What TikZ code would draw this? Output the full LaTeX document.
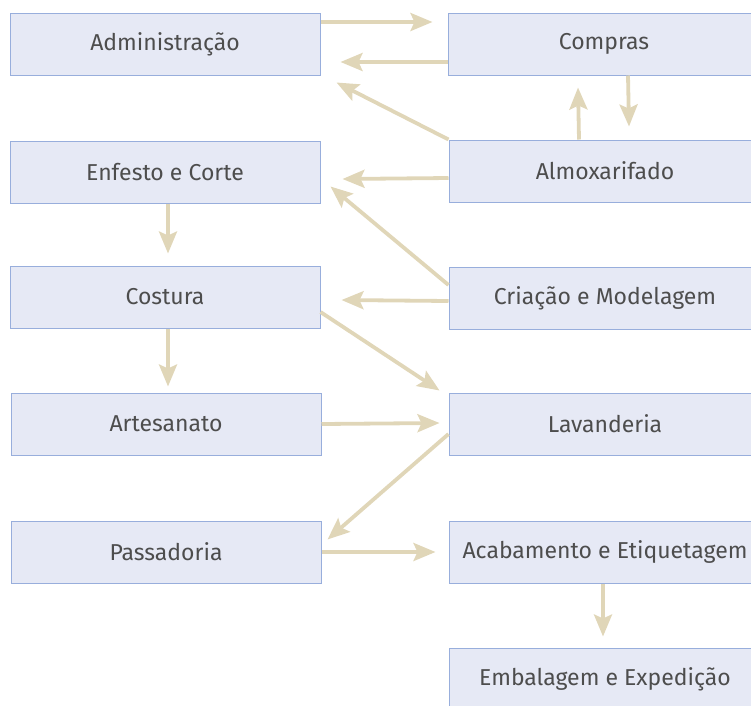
\documentclass[tikz,border=0pt]{standalone}
\usepackage{fontspec}
\setmainfont{Fira Sans}
\usetikzlibrary{arrows.meta,calc}
\definecolor{boxfill}{HTML}{E6E9F5}
\definecolor{boxline}{HTML}{98AEDC}
\definecolor{arrowc}{HTML}{E0D6B8}
\definecolor{txt}{HTML}{4D4D4D}
\tikzset{
  box/.style={draw=boxline, fill=boxfill, line width=1pt, minimum width=310pt, minimum height=62pt, inner sep=0pt, text=txt, font=\fontsize{23}{24}\selectfont},
  rbox/.style={box, minimum width=312pt},
  link/.style={draw=arrowc, line width=3.8pt, -{Stealth[length=22pt,width=18pt,inset=4pt]}}
}
\begin{document}
\begin{tikzpicture}[x=1pt,y=-1pt]
\useasboundingbox (0,0) rectangle (751,705);
\clip (0,0) rectangle (751,705);
\node[box] (adm) at (165,44) {Administração};
\node[rbox] (comp) at (604,44) {Compras};
\node[box] (enf) at (165,172) {Enfesto e Corte};
\node[rbox] (alm) at (605,171) {Almoxarifado};
\node[box] (cost) at (165,297) {Costura};
\node[rbox] (cri) at (605,298) {Criação e Modelagem};
\node[box] (art) at (166,424) {Artesanato};
\node[rbox] (lav) at (605,424) {Lavanderia};
\node[box] (pas) at (166,552) {Passadoria};
\node[rbox] (acab) at (605,552) {Acabamento e Etiquetagem};
\node[rbox] (emb) at (605,679) {Embalagem e Expedição};
% connectors
\draw[link] ($(adm.east)+(0,-22)$) -- ($(comp.west)+(-15,-22)$);
\draw[link] ($(comp.west)+(0,18)$) -- ($(adm.east)+(20,18)$);
\draw[link] (alm.north west) -- ($(adm.south east)+(16,7)$);
\draw[link] ($(alm.north)+(-26,0)$) -- ($(comp.south)+(-26,12)$);
\draw[link] ($(comp.south)+(24,0)$) -- ($(alm.north)+(24,-13)$);
\draw[link] ($(alm.west)+(0,7)$) -- ($(enf.east)+(22,7)$);
\draw[link] ($(cri.west)+(0,-13)$) -- ($(enf.south east)+(10,-17)$);
\draw[link] ($(cri.west)+(0,3)$) -- ($(cost.east)+(21,3)$);
\draw[link] ($(enf.south)+(3,0)$) -- ($(cost.north)+(3,-12)$);
\draw[link] ($(cost.south)+(3,0)$) -- ($(art.north)+(2,-6)$);
\draw[link] ($(cost.east)+(0,15)$) -- ($(lav.north west)+(-9,-2)$);
\draw[link] (art.east) -- ($(lav.west)+(-9,-1)$);
\draw[link] ($(lav.west)+(0,10)$) -- ($(pas.north east)+(6,19)$);
\draw[link] (pas.east) -- ($(acab.west)+(-13,0)$);
\draw[link] ($(acab.south)+(-2,0)$) -- ($(emb.north)+(-2,-11)$);
\end{tikzpicture}
\end{document}
